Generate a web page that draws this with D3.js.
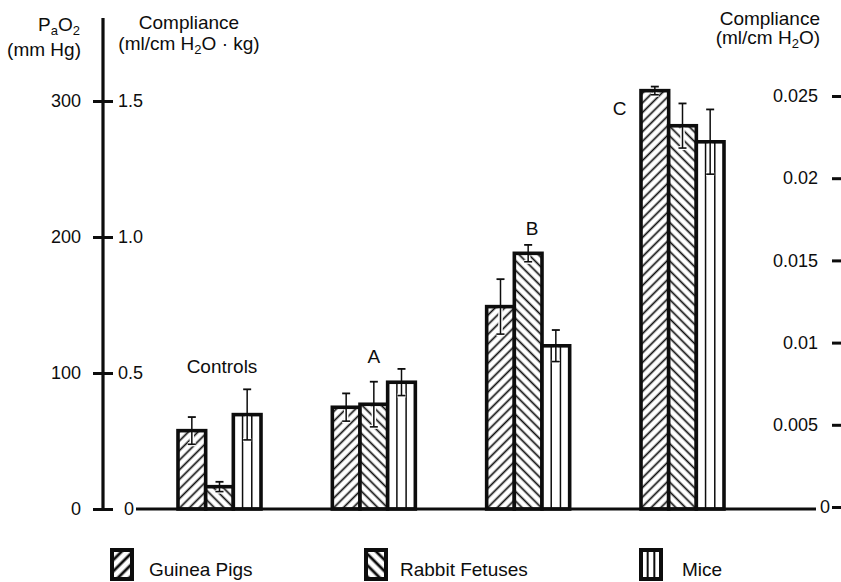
<!DOCTYPE html>
<html><head><meta charset="utf-8">
<script src="https://cdn.jsdelivr.net/npm/d3@7"></script>
<style>html,body{margin:0;padding:0;background:#fff;} svg{display:block;font-family:"Liberation Sans",Arial,Helvetica,sans-serif;}</style>
</head><body><svg id="c" width="841" height="582"></svg>
<script>
// ---- data ----
const categories = ["Controls", "A", "B", "C"];
const seriesNames = ["Guinea Pigs", "Rabbit Fetuses", "Mice"];
const guineaPigs = [0.288, 0.374, 0.744, 1.538];
const guineaPigsErr = [0.050, 0.051, 0.101, 0.015];
const rabbitFetuses = [0.082, 0.385, 0.940, 1.409];
const rabbitFetusesErr = [0.018, 0.083, 0.031, 0.082];
const mice = [0.347, 0.466, 0.600, 1.350];
const miceErr = [0.093, 0.049, 0.058, 0.119];
const pao2Ticks = [0, 100, 200, 300];
const complianceKgTicks = [0, 0.5, 1.0, 1.5];
const complianceTicks = [0, 0.005, 0.01, 0.015, 0.02, 0.025];

// ---- layout ----
const W = 841, H = 582;
const svg = d3.select("#c");
const yC = d3.scaleLinear().domain([0, 1.5]).range([509, 101]);
const yP = d3.scaleLinear().domain([0, 300]).range([509, 101]);
const yR = d3.scaleLinear().domain([0, 0.025]).range([507, 96]);
const x0 = d3.scalePoint().domain(categories).range([219.5, 682.5]);
const x1 = d3.scaleBand().domain(seriesNames).range([-41.5, 41.5]);
const patIds = ["gp", "rf", "mi"];
const seriesVals = [guineaPigs, rabbitFetuses, mice];
const seriesErrs = [guineaPigsErr, rabbitFetusesErr, miceErr];
const ink = "#0d0d0d";

// patterns
const defs = svg.append("defs");
function hatch(id, size, sw, angle) {
  const p = defs.append("pattern").attr("id", id).attr("patternUnits", "userSpaceOnUse")
    .attr("width", size).attr("height", size).attr("patternTransform", `rotate(${angle})`);
  p.append("rect").attr("width", size).attr("height", size).attr("fill", "#fff");
  p.append("line").attr("x1", size / 2).attr("x2", size / 2).attr("y1", -1).attr("y2", size + 1)
    .attr("stroke", ink).attr("stroke-width", sw);
}
hatch("gp", 6.8, 1.7, 45);
hatch("rf", 6.8, 1.7, -45);
hatch("lgp", 8, 2.8, 45);
hatch("lrf", 8, 2.8, -45);

// flattened bar records
const bars = [];
categories.forEach((c, i) => {
  seriesNames.forEach((s, j) => {
    bars.push({ cat: c, s, j, v: seriesVals[j][i], e: seriesErrs[j][i] });
  });
});

const gBars = svg.append("g");
bars.forEach(b => {
  const x = x0(b.cat) + x1(b.s), w = x1.bandwidth();
  const yt = yC(b.v), yb = yC(0);
  gBars.append("rect").attr("x", x).attr("y", yt).attr("width", w).attr("height", yb - yt)
    .attr("fill", b.j === 2 ? "#fff" : `url(#${patIds[b.j]})`)
    .attr("stroke", ink).attr("stroke-width", 3.6);
  if (b.j === 2) {
    [1 / 3, 2 / 3].forEach(f => {
      gBars.append("line").attr("x1", x + w * f).attr("x2", x + w * f)
        .attr("y1", yt).attr("y2", yb).attr("stroke", ink).attr("stroke-width", 1.5);
    });
  }
});
// error bars
const gErr = svg.append("g");
bars.forEach(b => {
  const cx = x0(b.cat) + x1(b.s) + x1.bandwidth() / 2;
  const yv = yC(b.v), yu = yC(b.v + b.e), yl = yC(Math.max(0, b.v - b.e));
  // lower whisker inside the bar (halo)
  gErr.append("line").attr("x1", cx).attr("x2", cx).attr("y1", yv + 2).attr("y2", yl + 1.5)
    .attr("stroke", "#fff").attr("stroke-width", 4.5);
  gErr.append("line").attr("x1", cx - 4).attr("x2", cx + 4).attr("y1", yl).attr("y2", yl)
    .attr("stroke", "#fff").attr("stroke-width", 4);
  gErr.append("line").attr("x1", cx).attr("x2", cx).attr("y1", yu).attr("y2", yl)
    .attr("stroke", ink).attr("stroke-width", 1.5);
  gErr.append("line").attr("x1", cx - 4).attr("x2", cx + 4).attr("y1", yu).attr("y2", yu)
    .attr("stroke", ink).attr("stroke-width", 1.8);
  gErr.append("line").attr("x1", cx - 4).attr("x2", cx + 4).attr("y1", yl).attr("y2", yl)
    .attr("stroke", ink).attr("stroke-width", 1.6);
});

// baseline
svg.append("line").attr("x1", 136).attr("x2", 816).attr("y1", yC(0)).attr("y2", yC(0))
  .attr("stroke", ink).attr("stroke-width", 3);

// left axis
svg.append("line").attr("x1", 103).attr("x2", 103).attr("y1", 18).attr("y2", yC(0) + 1)
  .attr("stroke", ink).attr("stroke-width", 3.2);
const fmtKg = d => d === 0 ? "0" : d3.format(".1f")(d);
function styleAxis(g, fs) {
  g.select(".domain").remove();
  g.selectAll(".tick line").attr("stroke", ink).attr("stroke-width", 3);
  g.selectAll(".tick text").attr("fill", ink).style("font-size", fs + "px")
    .style("font-family", '"Liberation Sans",Arial,sans-serif');
}
const gL = svg.append("g").attr("transform", "translate(103,0)")
  .call(d3.axisLeft(yP).tickValues(pao2Ticks).tickSize(10).tickPadding(12).tickFormat(d3.format("d")));
styleAxis(gL, 18);
const gL2 = svg.append("g").attr("transform", "translate(103,0)")
  .call(d3.axisRight(yC).tickValues(complianceKgTicks).tickSize(10).tickPadding(5).tickFormat(fmtKg));
styleAxis(gL2, 18);
gL2.selectAll(".tick").filter(d => d === 0).select("text").attr("x", 21);

// right axis
const gR = svg.append("g").attr("transform", `translate(${W},0)`)
  .call(d3.axisLeft(yR).tickValues(complianceTicks).tickSize(9).tickPadding(14)
    .tickFormat(d => d === 0 ? "0" : d3.format(".3~f")(d)));
styleAxis(gR, 18);
gR.selectAll(".tick").filter(d => d === 0).select("text").attr("x", -11);

// axis titles
const t = svg.append("g").attr("fill", ink).style("font-size", "19px");
const pa = t.append("text").attr("x", 80).attr("y", 31).attr("text-anchor", "end");
pa.append("tspan").text("P");
pa.append("tspan").text("a").style("font-size", "13px").attr("dy", 4);
pa.append("tspan").text("O").attr("dy", -4);
pa.append("tspan").text("2").style("font-size", "13px").attr("dy", 4);
t.append("text").attr("x", 81).attr("y", 56).attr("text-anchor", "end").text("(mm Hg)");
t.append("text").attr("x", 189).attr("y", 29).attr("text-anchor", "middle").text("Compliance");
const ck = t.append("text").attr("x", 189).attr("y", 50).attr("text-anchor", "middle");
ck.append("tspan").text("(ml/cm H");
ck.append("tspan").text("2").style("font-size", "13px").attr("dy", 4);
ck.append("tspan").text("O \u00B7 kg)").attr("dy", -4);
t.append("text").attr("x", 820).attr("y", 25).attr("text-anchor", "end").text("Compliance");
const cr = t.append("text").attr("x", 820).attr("y", 44).attr("text-anchor", "end");
cr.append("tspan").text("(ml/cm H");
cr.append("tspan").text("2").style("font-size", "13px").attr("dy", 4);
cr.append("tspan").text("O)").attr("dy", -4);

// group labels
const groupLabelPos = { Controls: [2.5, 373], A: [0, 363], B: [4, 235], C: [-63, 115] };
categories.forEach(c => {
  t.append("text").attr("x", x0(c) + groupLabelPos[c][0]).attr("y", groupLabelPos[c][1])
    .attr("text-anchor", "middle").text(c);
});

// legend
const legendSwatchX = [112, 366, 641];
const legendTextX = [149, 400, 682];
const lg = svg.append("g");
seriesNames.forEach((s, j) => {
  const sx = legendSwatchX[j];
  lg.append("rect").attr("x", sx).attr("y", 550).attr("width", 20).attr("height", 29)
    .attr("fill", j === 2 ? "#fff" : `url(#l${patIds[j]})`).attr("stroke", ink).attr("stroke-width", 4);
  if (j === 2) {
    [1 / 3, 2 / 3].forEach(f => lg.append("line").attr("x1", sx + 20 * f).attr("x2", sx + 20 * f)
      .attr("y1", 550).attr("y2", 579).attr("stroke", ink).attr("stroke-width", 2));
  }
  lg.append("text").attr("x", legendTextX[j]).attr("y", 576).attr("fill", ink)
    .style("font-size", "19px").text(s);
});
</script></body></html>
